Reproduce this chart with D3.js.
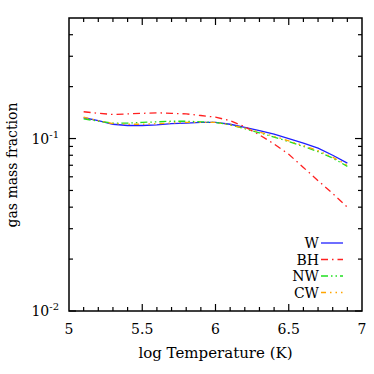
<!DOCTYPE html>
<html>
<head>
<meta charset="utf-8">
<script src="https://cdn.jsdelivr.net/npm/d3@7"></script>
<style>
  body { margin: 0; background: #fff; }
</style>
</head>
<body>
<div class="chart"></div>
<script>
// data
var logT = [5.1, 5.2, 5.3, 5.4, 5.5, 5.6, 5.7, 5.8, 5.9, 6.0, 6.1, 6.2, 6.3, 6.4, 6.5, 6.6, 6.7, 6.8, 6.9];
var fracW  = [0.132, 0.127, 0.121, 0.119, 0.119, 0.120, 0.122, 0.123, 0.124, 0.124, 0.121, 0.116, 0.111, 0.106, 0.100, 0.094, 0.088, 0.080, 0.072];
var fracBH = [0.143, 0.140, 0.138, 0.139, 0.140, 0.141, 0.140, 0.139, 0.136, 0.133, 0.127, 0.117, 0.105, 0.093, 0.081, 0.068, 0.057, 0.048, 0.040];
var fracNW = [0.130, 0.126, 0.123, 0.123, 0.124, 0.125, 0.126, 0.126, 0.125, 0.124, 0.120, 0.114, 0.108, 0.102, 0.096, 0.090, 0.084, 0.077, 0.069];
var fracCW = [0.133, 0.127, 0.122, 0.121, 0.121, 0.122, 0.123, 0.124, 0.124, 0.124, 0.120, 0.115, 0.109, 0.103, 0.097, 0.091, 0.085, 0.078, 0.070];
var seriesNames = ["W", "BH", "NW", "CW"];
var xTicks = [5, 5.5, 6, 6.5, 7];

var series = [
    { name: "W",  values: fracW,  color: "#2020ff", dash: null },
    { name: "BH", values: fracBH, color: "#ff2020", dash: "7,4,1.5,4" },
    { name: "NW", values: fracNW, color: "#20e020", dash: "7,3,1.5,3,1.5,3" },
    { name: "CW", values: fracCW, color: "#ffa500", dash: "5,4,1.5,4,1.5,4,1.5,4" }
];

var W = 374, H = 374;
var margin = { top: 18, right: 12, bottom: 63, left: 69 },
    width = W - margin.left - margin.right,
    height = H - margin.top - margin.bottom;

var FONT = "'DejaVu Serif', serif";

var svg = d3.select(".chart").append("svg")
    .attr("width", W)
    .attr("height", H)
    .attr("font-family", FONT)
    .append("g")
    .attr("transform", "translate(" + margin.left + "," + margin.top + ")");

var x = d3.scaleLinear().domain([5, 7]).range([0, width]);
var y = d3.scaleLog().domain([0.01, 0.5]).range([height, 0]);

// ticks, mirrored on all four sides
var minorX = d3.range(51, 70).map(function (d) { return d / 10; });
var majorY = [0.01, 0.1];
var minorY = [0.02, 0.03, 0.04, 0.05, 0.06, 0.07, 0.08, 0.09, 0.2, 0.3, 0.4];

var ticks = svg.append("g").attr("stroke", "#000").attr("stroke-width", 1.2);
minorX.forEach(function (v) {
    var len = xTicks.indexOf(v) >= 0 ? 7 : 4;
    ticks.append("line").attr("x1", x(v)).attr("x2", x(v)).attr("y1", height).attr("y2", height - len);
    ticks.append("line").attr("x1", x(v)).attr("x2", x(v)).attr("y1", 0).attr("y2", len);
});
majorY.concat(minorY).forEach(function (v) {
    var len = majorY.indexOf(v) >= 0 ? 7 : 4;
    ticks.append("line").attr("y1", y(v)).attr("y2", y(v)).attr("x1", 0).attr("x2", len);
    ticks.append("line").attr("y1", y(v)).attr("y2", y(v)).attr("x1", width).attr("x2", width - len);
});

// tick labels
svg.append("g").selectAll("text")
    .data(xTicks)
    .enter().append("text")
    .attr("x", function (d) { return x(d); })
    .attr("y", height + 23)
    .attr("text-anchor", "middle")
    .attr("font-size", 14)
    .text(function (d) { return d; });

var yl = svg.append("g").selectAll("text")
    .data(majorY)
    .enter().append("text")
    .attr("x", -10)
    .attr("y", function (d) { return y(d) + 5; })
    .attr("text-anchor", "end")
    .attr("font-size", 14);
yl.append("tspan").text("10");
yl.append("tspan").attr("dy", -6).attr("font-size", 10)
    .text(function (d) { return "-" + Math.round(-Math.log10(d)); });

// lines
var line = d3.line()
    .x(function (d, i) { return x(logT[i]); })
    .y(function (d) { return y(d); });

series.forEach(function (s) {
    svg.append("path")
        .datum(s.values)
        .attr("fill", "none")
        .attr("stroke", s.color)
        .attr("stroke-width", 1.3)
        .attr("stroke-dasharray", s.dash)
        .attr("d", line);
});

// legend
var leg = svg.append("g").attr("transform", "translate(" + (width - 43) + "," + 225 + ")");
series.forEach(function (s, i) {
    var g = leg.append("g").attr("transform", "translate(0," + (i * 16.5) + ")");
    g.append("text")
        .attr("x", 0).attr("y", 5)
        .attr("text-anchor", "end")
        .attr("font-size", 14)
        .text(seriesNames[i]);
    g.append("line")
        .attr("x1", 2).attr("x2", 24)
        .attr("stroke", s.color)
        .attr("stroke-width", 1.3)
        .attr("stroke-dasharray", s.dash);
});

// frame
svg.append("rect")
    .attr("width", width)
    .attr("height", height)
    .attr("fill", "none")
    .attr("stroke", "#000")
    .attr("stroke-width", 1.5);

// axis labels
svg.append("text")
    .attr("x", width / 2)
    .attr("y", height + 47)
    .attr("text-anchor", "middle")
    .attr("font-size", 15)
    .text("log Temperature (K)");

svg.append("text")
    .attr("transform", "rotate(-90)")
    .attr("x", -(165 - margin.top))
    .attr("y", -margin.left + 17)
    .attr("text-anchor", "middle")
    .attr("font-size", 14)
    .text("gas mass fraction");
</script>
</body>
</html>
